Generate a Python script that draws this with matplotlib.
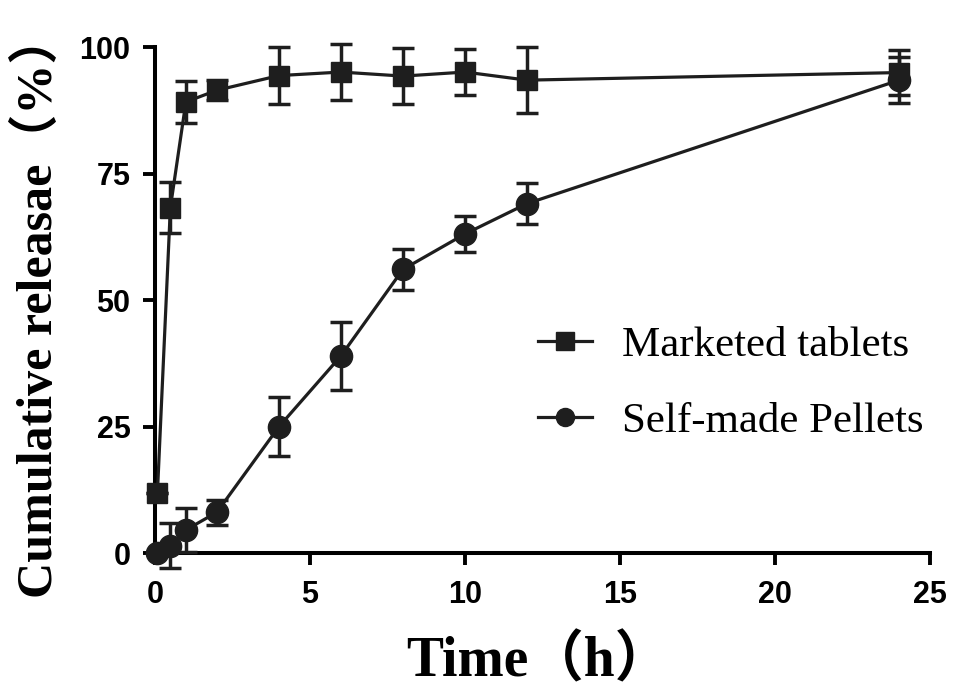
import numpy as np
import matplotlib.pyplot as plt

# time points (h)
t = [0.083, 0.5, 1, 2, 4, 6, 8, 10, 12, 24]

tablets = [12.0, 68.3, 89.2, 91.5, 94.4, 95.1, 94.3, 95.1, 93.5, 95.0]
tablets_err = [0.0, 5.0, 4.2, 2.0, 5.6, 5.5, 5.5, 4.5, 6.5, 4.5]

pellets = [0.0, 1.5, 4.6, 8.1, 25.0, 39.0, 56.1, 63.1, 69.1, 93.5]
pellets_err = [0.0, 4.5, 4.4, 2.5, 5.8, 6.7, 4.1, 3.6, 4.0, 4.5]

ser = ["Liberation Serif", "Noto Sans CJK SC"]
c = "#1e1e1e"

fig = plt.figure(figsize=(9.56, 6.95), dpi=100)
ax = fig.add_axes([0.162, 0.204, 0.811, 0.728])

eb1 = ax.errorbar(t, tablets, yerr=tablets_err, color=c, marker="s", ms=15, lw=2.3,
                  elinewidth=2.5, capsize=8, capthick=2.5, label="Marketed tablets",
                  clip_on=False, zorder=3)
eb2 = ax.errorbar(t, pellets, yerr=pellets_err, color=c, marker="o", ms=16, lw=2.3,
                  elinewidth=2.5, capsize=8, capthick=2.5, label="Self-made Pellets",
                  clip_on=False, zorder=3)

ax.set_xlim(0, 25)
ax.set_ylim(0, 100)
ax.set_xticks([0, 5, 10, 15, 20, 25])
ax.set_yticks([0, 25, 50, 75, 100])

for s in ["top", "right"]:
    ax.spines[s].set_visible(False)
for s in ["left", "bottom"]:
    ax.spines[s].set_linewidth(2.9)
    ax.spines[s].set_color("black")

ax.tick_params(axis="both", length=8.5, width=2.8, direction="out")
ax.tick_params(axis="x", pad=11)
ax.tick_params(axis="y", pad=9)
for lab in ax.get_xticklabels() + ax.get_yticklabels():
    lab.set_fontfamily("Liberation Sans")
    lab.set_fontweight("bold")
    lab.set_fontsize(22)

ax.set_xlabel("Time（h）", family=ser, fontweight="bold", fontsize=40)
ax.xaxis.set_label_coords(0.495, -0.162)

fig.text(0.041, 1 - 598 / 695, "Cumulative releasae（%）", family=ser, fontweight="bold",
         fontsize=36, rotation=90, ha="center", va="bottom")

leg = fig.legend(handles=[eb1.lines[0], eb2.lines[0]],
                 labels=["Marketed tablets", "Self-made Pellets"],
                 loc="upper left", bbox_to_anchor=(538 / 956, 1 - 326 / 695),
                 frameon=False, prop={"family": "Liberation Serif", "size": 31},
                 handlelength=1.25, labelspacing=0.86, handletextpad=0.7,
                 borderpad=0, borderaxespad=0)
for h in leg.legend_handles:
    h.set_markersize(13)

plt.savefig("out.png", dpi=100)
